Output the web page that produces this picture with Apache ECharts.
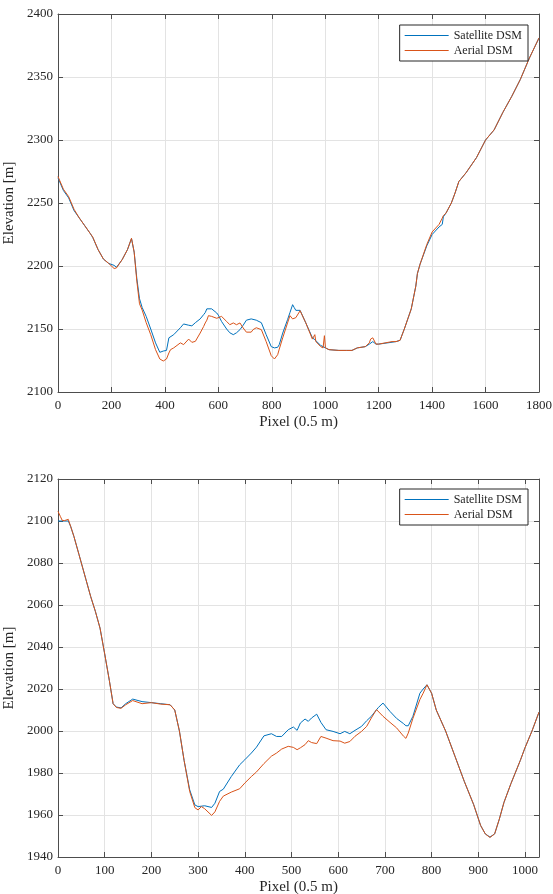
<!DOCTYPE html>
<html>
<head>
<meta charset="utf-8">
<script src="https://cdn.jsdelivr.net/npm/echarts@6/dist/echarts.min.js"></script>
<style>
html,body{margin:0;padding:0;background:#fff;}
#chart{width:553px;height:894px;}
</style>
</head>
<body>
<div id="chart"></div>
<script>
// ---- Top profile (pixel, elevation) ----
const topPixel = [0,20,40,60,80,100,120,130,150,170,190,210,219,240,260,275,285,295,305,315,330,347,365,381,394,406,415,421,433,440,458,470,477,489,495,501,514,532,545,551,557,563,575,582,594,600,612,631,643,656,668,681,693,705,711,723,730,742,748,761,779,798,810,816,822,828,841,859,868,878,884,890,906,927,952,958,961,965,983,992,997,1001,1014,1051,1080,1100,1120,1150,1165,1170,1178,1190,1200,1250,1265,1280,1296,1322,1339,1345,1355,1380,1400,1426,1438,1442,1452,1472,1486,1500,1527,1566,1600,1632,1665,1698,1730,1764,1800];
const topSatellite = [2270,2260,2254,2244,2238,2232,2226,2222.6,2213,2205.5,2202,2200.5,2199,2205,2213,2221.8,2211,2190,2174,2167,2160,2150,2139,2131.5,2132.5,2133,2143,2144,2145.5,2147,2151,2154,2155.3,2153,2152,2152.5,2155,2158,2161.4,2163,2166,2166,2166,2165.5,2162.7,2161,2156,2150,2147,2145.5,2147,2149.5,2153,2157,2158,2158,2157.5,2157,2156.5,2155,2145.5,2136,2135,2135,2135.5,2137.6,2146.8,2157.4,2163,2169.3,2167,2164.8,2164.8,2155,2143,2142,2141.5,2141,2137,2136,2135.5,2135,2133.6,2133,2133,2133,2135,2136,2138,2139,2140,2138,2138,2139.5,2140,2141,2150,2166,2184,2194,2201.5,2216,2225,2231,2233,2239,2242,2250,2258,2267,2274,2286,2300,2308,2322,2334.6,2348,2365,2381];
const topAerial = [2271,2261,2255,2245,2238,2232,2226,2223,2213,2205.5,2202,2198,2198.5,2205,2213,2222,2211,2188,2170,2165,2155,2145.5,2133.6,2126.2,2124.6,2126.2,2131,2133.6,2135,2136,2139,2137.6,2138,2142,2141,2139.4,2140.2,2146.8,2152,2154.8,2157,2160.6,2160,2159.5,2158.5,2158,2160,2156,2153.4,2154.8,2153.4,2154.8,2150.8,2147.5,2146.3,2147.5,2149.5,2151,2152,2149.5,2140,2128.8,2126.2,2127,2129.6,2134,2143,2154.8,2160.6,2158,2157,2159,2164.5,2155,2142,2141,2145.5,2140,2136,2135,2144.7,2135,2133.6,2133,2133,2133,2135,2136,2139,2142,2143,2138,2138,2140,2140,2141,2150,2166,2184,2194,2201.5,2217,2227,2233,2238,2240,2242,2250,2258,2267,2274,2286,2300,2308,2322,2334.6,2348,2365,2381];

// ---- Bottom profile (pixel, elevation) ----
const botPixel = [0,5,9,14,18,22,27,34,45,60,70,80,90,100,110,118,125,135,145,160,180,200,220,240,250,260,270,282,293,300,307,314,318,329,336,346,354,371,389,400,414,425,441,457,468,479,493,504,512,519,529,536,543,554,563,574,589,604,614,625,636,650,661,671,682,686,696,711,725,740,745,750,760,775,782,790,800,810,830,850,870,890,905,915,925,935,945,955,970,990,1000,1015,1030];
const botSatellite = [2100,2100,2100,2100,2100,2100,2097.5,2092.7,2084,2072,2064,2057,2049,2036.7,2024,2013,2011.4,2011,2013,2015.2,2014,2013.5,2013,2012.5,2010,2000,1986,1972,1964.8,1964,1964.2,1964.4,1964.3,1963.6,1965.6,1971.2,1972.3,1978.3,1983.9,1986.3,1989.5,1992.3,1997.7,1998.7,1997.4,1997.4,2000.6,2001.9,2000.3,2003.8,2005.7,2004.6,2006.2,2008,2004.1,2000.6,1999.8,1998.7,1999.8,1998.7,2000.3,2002.2,2004.9,2007,2010.1,2011.2,2013.3,2009.3,2006,2003.5,2002.5,2002.5,2007,2018,2020,2022,2018,2010,2000,1988,1976,1965,1955,1951,1949.5,1951,1958,1966,1975,1986,1992,2000,2009];
const botAerial = [2104.6,2102.2,2100.3,2100.2,2101.1,2100.8,2097.5,2092.7,2084,2072,2064,2057,2049,2036.7,2024,2013,2011.2,2010.8,2012.5,2014.5,2013,2013.5,2012.8,2012.5,2010,2000,1986,1971.2,1963.5,1962.4,1964,1963,1962.1,1959.8,1961.5,1966.5,1969,1970.9,1972.5,1975.2,1978.3,1980.5,1984.5,1988,1989.5,1991.4,1992.7,1992.2,1991.1,1992,1993.5,1995.4,1994.5,1994,1997.4,1996.6,1995.4,1995.2,1994.2,1995,1997.5,1999.8,2002.2,2006.2,2010.2,2010.5,2007,2004.1,2001.5,1997.5,1996.5,1999,2006,2015,2018,2022,2018,2010,2000,1988,1976,1965,1955,1951,1949.3,1951,1958,1966,1975,1986,1992,2000,2009];

// ---- Axis ticks ----
const topXTicks = {min:0, max:1800, interval:200};
const topYTicks = {min:2100, max:2400, interval:50};
const botXTicks = {min:0, max:1030, interval:100};
const botYTicks = {min:1940, max:2120, interval:20};
const seriesNames = ['Satellite DSM','Aerial DSM'];
const colors = ['#0072BD','#D95319'];

const FONT = 'Liberation Serif';
const AX = '#4d4d4d';
const TXT = '#262626';
const GRIDC = '#e3e3e3';

function pairs(xs, ys){ return xs.map((x,i)=>[x, ys[i]]); }

function mainX(gi, t){
  return {
    type:'value', gridIndex:gi, min:t.min, max:t.max, interval:t.interval,
    name:'Pixel (0.5 m)', nameLocation:'middle', nameGap:23,
    nameTextStyle:{fontFamily:FONT, fontSize:15, color:TXT},
    axisLine:{show:true, onZero:false, lineStyle:{color:AX, width:1}},
    axisTick:{show:true, inside:true, length:5, lineStyle:{color:AX}},
    axisLabel:{fontFamily:FONT, fontSize:13, color:TXT, margin:7,
      formatter:(v)=> (v % t.interval === 0 ? String(v) : '')},
    splitLine:{show:true, lineStyle:{color:GRIDC, width:1}}
  };
}
function boxX(gi, t){
  return {
    type:'value', gridIndex:gi, position:'top', min:t.min, max:t.max, interval:t.interval,
    axisLine:{show:true, onZero:false, lineStyle:{color:AX, width:1}},
    axisTick:{show:true, inside:true, length:5, lineStyle:{color:AX}},
    axisLabel:{show:false}, splitLine:{show:false}
  };
}
function mainY(gi, t){
  return {
    type:'value', gridIndex:gi, min:t.min, max:t.max, interval:t.interval,
    name:'Elevation [m]', nameLocation:'middle', nameGap:31, nameRotate:90,
    nameTextStyle:{fontFamily:FONT, fontSize:15, color:TXT},
    axisLine:{show:true, onZero:false, lineStyle:{color:AX, width:1}},
    axisTick:{show:true, inside:true, length:5, lineStyle:{color:AX}},
    axisLabel:{fontFamily:FONT, fontSize:13, color:TXT, margin:5,
      formatter:(v)=> String(v)},
    splitLine:{show:true, lineStyle:{color:GRIDC, width:1}}
  };
}
function boxY(gi, t){
  return {
    type:'value', gridIndex:gi, position:'right', min:t.min, max:t.max, interval:t.interval,
    axisLine:{show:true, onZero:false, lineStyle:{color:AX, width:1}},
    axisTick:{show:true, inside:true, length:5, lineStyle:{color:AX}},
    axisLabel:{show:false}, splitLine:{show:false}
  };
}
function legendAt(top){
  return {
    data:seriesNames, right:25, top:top, orient:'vertical',
    backgroundColor:'#fff', borderColor:'#262626', borderWidth:1, borderRadius:0,
    padding:[3,6,3,5], itemGap:0, itemWidth:44, itemHeight:1.2, icon:'rect',
    textStyle:{fontFamily:FONT, fontSize:12, color:TXT, lineHeight:15, height:15},
    selectedMode:false
  };
}
function line(name, data, color, xi, yi){
  return {
    type:'line', name:name, data:data, xAxisIndex:xi, yAxisIndex:yi,
    symbol:'none', smooth:false, animation:false,
    lineStyle:{color:color, width:1}, itemStyle:{color:color}, z:3
  };
}

const chart = echarts.init(document.getElementById('chart'), null, {renderer:'canvas'});
chart.setOption({
  backgroundColor:'#ffffff',
  animation:false,
  grid:[
    {left:58, top:14, width:481, height:378, containLabel:false, outerBoundsMode:'none'},
    {left:58, top:479, width:481, height:378, containLabel:false, outerBoundsMode:'none'}
  ],
  xAxis:[mainX(0, topXTicks), boxX(0, topXTicks), mainX(1, botXTicks), boxX(1, botXTicks)],
  yAxis:[mainY(0, topYTicks), boxY(0, topYTicks), mainY(1, botYTicks), boxY(1, botYTicks)],
  legend:[ legendAt(25), legendAt(489) ],
  series:[
    line(seriesNames[0], pairs(topPixel, topSatellite), colors[0], 0, 0),
    line(seriesNames[1], pairs(topPixel, topAerial), colors[1], 0, 0),
    line(seriesNames[0], pairs(botPixel, botSatellite), colors[0], 2, 2),
    line(seriesNames[1], pairs(botPixel, botAerial), colors[1], 2, 2)
  ]
});
</script>
</body>
</html>
